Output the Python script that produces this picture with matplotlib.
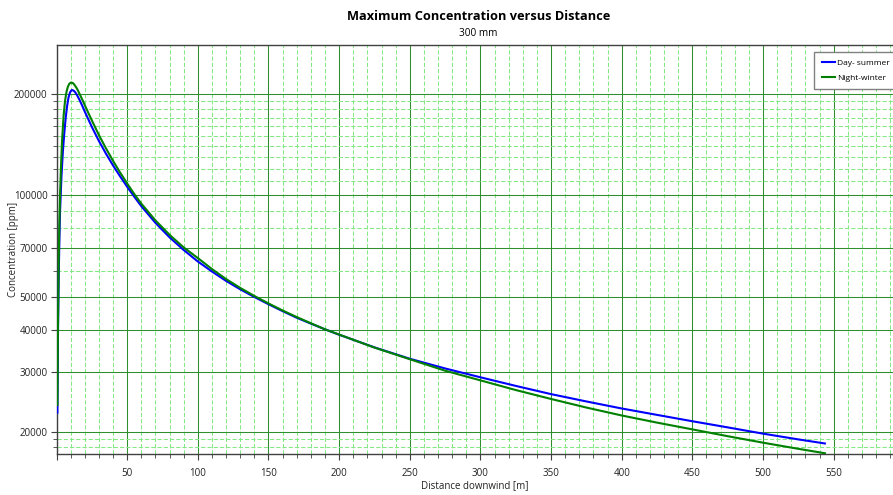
import numpy as np
import matplotlib
matplotlib.use("Agg")
from matplotlib import pyplot as plt
from matplotlib import ticker

plt.rcParams['font.family'] = ['Open Sans', 'DejaVu Sans']

# Day- summer series (distance [m], concentration [ppm])
day_x = [0.6, 1.0, 1.5, 2.0, 2.5, 3.5, 4.5, 5.5, 6.5, 7.5, 8.5, 9.5, 10.5, 11,
         12, 13, 14, 15, 16, 17, 18, 19, 20, 22.5, 25, 30, 35, 40, 45, 50, 55,
         60, 70, 80, 90, 100, 110, 120, 130, 140, 150, 160, 170, 180, 190, 200,
         225, 250, 275, 300, 325, 350, 375, 400, 425, 450, 475, 500, 525, 543.8]
day_y = [22800, 38000, 56000, 73000, 90000, 114000, 135000, 153000, 170000,
         184000, 195000, 201500, 204600, 205100, 204300, 202500, 199700, 196300,
         192700, 188900, 185000, 181000, 177000, 168000, 159500, 144900, 132900,
         122700, 113900, 106100, 99200, 93000, 83000, 75200, 69000, 63800, 59600,
         55900, 52800, 50100, 47700, 45500, 43500, 41800, 40200, 38750, 35550,
         32900, 30800, 29000, 27350, 25860, 24600, 23450, 22450, 21500, 20620,
         19760, 19000, 18480]

# Night-winter series
night_x = [0.6, 1.0, 1.5, 2.0, 2.5, 3.0, 3.9, 5, 6, 7, 8, 9, 10, 10.5, 11.5,
           12.5, 14, 15, 17, 19, 20, 22.5, 25, 30, 35, 40, 45, 50, 55, 60, 70,
           80, 90, 100, 110, 120, 130, 140, 150, 160, 170, 180, 190, 200, 225,
           250, 275, 300, 325, 350, 375, 400, 425, 450, 475, 500, 525, 543.8]
night_y = [24000, 41000, 62000, 82000, 100000, 117000, 145000, 172000, 190000,
           202000, 209500, 213800, 215500, 215700, 215000, 213000, 208500,
           205000, 197000, 189000, 185000, 175500, 166700, 150900, 137800,
           126600, 116900, 108500, 101000, 94600, 84400, 76500, 70200, 65300,
           60600, 56600, 53300, 50450, 47950, 45700, 43700, 41900, 40200, 38800,
           35500, 32800, 30330, 28400, 26590, 25020, 23600, 22360, 21300, 20340,
           19420, 18580, 17820, 17290]

y_major = [20000, 30000, 40000, 50000, 70000, 100000, 200000]
y_minor = [18000, 19000, 60000, 80000, 90000] + list(range(110000, 200000, 10000))

fig = plt.figure(figsize=(8.93, 4.95), dpi=100)
ax = fig.add_axes([0.0633, 0.0828, 0.9367, 0.8263])

ax.plot(day_x, day_y, color='#0000ff', lw=1.5, label='Day- summer', zorder=3)
ax.plot(night_x, night_y, color='#008000', lw=1.5, label='Night-winter', zorder=3)

ax.set_yscale('log')
ax.set_xlim(0, 592)
ax.set_ylim(17200, 278600)

ax.xaxis.set_major_locator(ticker.MultipleLocator(50))
ax.xaxis.set_minor_locator(ticker.MultipleLocator(10))
ax.xaxis.set_major_formatter(ticker.FuncFormatter(lambda v, p: '' if v == 0 else f'{int(v)}'))
ax.yaxis.set_major_locator(ticker.FixedLocator(y_major))
ax.yaxis.set_minor_locator(ticker.FixedLocator(y_minor))
ax.yaxis.set_major_formatter(ticker.FuncFormatter(lambda v, p: f'{int(v)}'))
ax.yaxis.set_minor_formatter(ticker.NullFormatter())

ax.grid(which='major', color='#2f8f2f', lw=0.75, ls='-', zorder=1, snap=True)
ax.grid(which='minor', color='#84e884', lw=0.75, ls=(0, (4, 2)), zorder=0, snap=True)

for s in ['left', 'bottom', 'top']:
    ax.spines[s].set_color('#404040')
    ax.spines[s].set_linewidth(1.0)
ax.spines['right'].set_visible(False)

ax.tick_params(which='both', direction='out', color='#404040', labelsize=7,
               labelcolor='#222222')
ax.tick_params(axis='x', which='both', pad=6)
ax.tick_params(axis='y', which='both', pad=2.5)
ax.tick_params(which='major', length=4)
ax.tick_params(which='minor', length=3)

ax.set_xlabel('Distance downwind [m]', fontsize=7, labelpad=1, color='#222222')
ax.set_ylabel('Concentration [ppm]', fontsize=7, color='#222222')
ax.yaxis.set_label_coords(-0.0448, 0.5)

fig.text(0.536, 0.967, 'Maximum Concentration versus Distance', ha='center', va='center',
         fontsize=9.2, fontweight='bold')
fig.text(0.536, 0.933, '300 mm', ha='center', va='center', fontsize=7.2)

leg = ax.legend(loc='upper left', bbox_to_anchor=(0.9056, 0.983), borderaxespad=0,
                fontsize=6.0, frameon=True, fancybox=False, handlelength=1.6,
                handletextpad=0.3, borderpad=0.9, labelspacing=0.8)
leg.get_frame().set_edgecolor('#808080')
leg.get_frame().set_linewidth(1.0)
leg.get_frame().set_alpha(1)

fig.savefig('out.png', dpi=100)
